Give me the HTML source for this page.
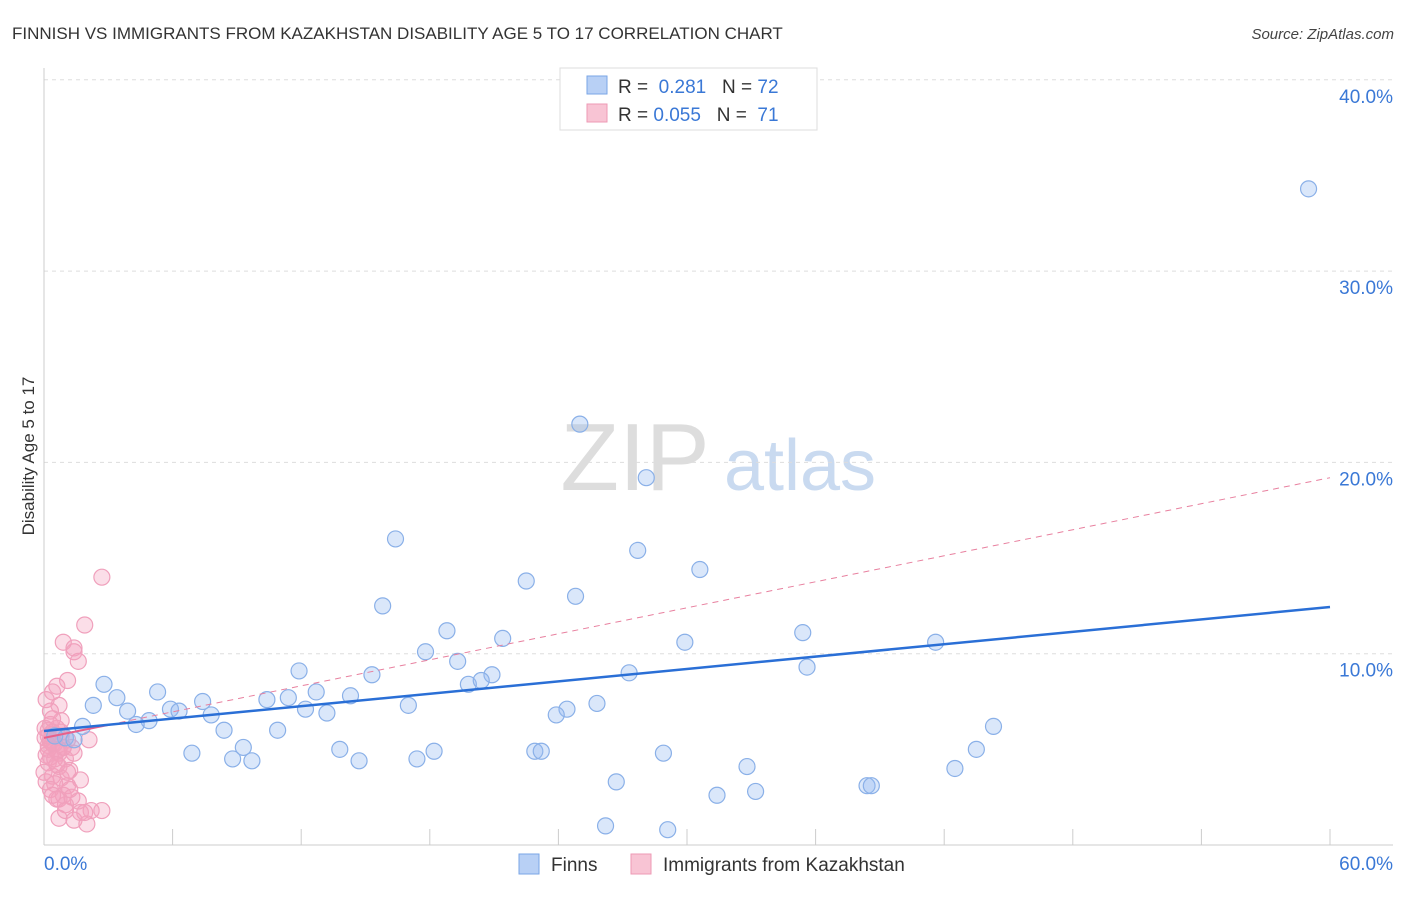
<!DOCTYPE html>
<html><head><meta charset="utf-8"><style>
body{margin:0;background:#fff;font-family:"Liberation Sans",sans-serif;}
svg text{font-family:"Liberation Sans",sans-serif;}
</style></head><body>
<svg id="c" width="1406" height="892" xmlns="http://www.w3.org/2000/svg">
<text x="12" y="39" font-size="17" fill="#333">FINNISH VS IMMIGRANTS FROM KAZAKHSTAN DISABILITY AGE 5 TO 17 CORRELATION CHART</text>
<text x="1394" y="39" font-size="15" fill="#444" font-style="italic" text-anchor="end">Source: ZipAtlas.com</text>
<text x="34" y="456" font-size="17" fill="#333" transform="rotate(-90 34 456)" text-anchor="middle">Disability Age 5 to 17</text>
<g><text x="635" y="490" font-size="96" fill="#ddd" font-family="Liberation Serif" text-anchor="middle">ZIP</text><text x="800" y="490" font-size="72" fill="#c9daf0" text-anchor="middle">atlas</text></g>
<g id="grid"></g><g id="axes"></g><g id="marks"></g>
<g>
<rect x="560" y="68" width="257" height="62" fill="#fff" stroke="#ddd"/>
<rect x="587" y="76" width="20" height="18" fill="#b8d0f5" stroke="#7aa6e6"/>
<rect x="587" y="104" width="20" height="18" fill="#f8c4d4" stroke="#ee9ab5"/>
<text x="618" y="93" font-size="19" fill="#333">R = <tspan fill="#3a78d6">&#160;0.281</tspan>&#160;&#160;&#160;N = <tspan fill="#3a78d6">72</tspan></text>
<text x="618" y="121" font-size="19" fill="#333">R = <tspan fill="#3a78d6">0.055</tspan>&#160;&#160;&#160;N = <tspan fill="#3a78d6">&#160;71</tspan></text>
</g>
<g>
<rect x="519" y="854" width="20" height="20" fill="#b8d0f5" stroke="#7aa6e6"/>
<text x="551" y="871" font-size="19" fill="#333">Finns</text>
<rect x="631" y="854" width="20" height="20" fill="#f8c4d4" stroke="#ee9ab5"/>
<text x="663" y="871" font-size="19" fill="#333">Immigrants from Kazakhstan</text>
</g>
</svg>
<script>
const finnsX=[59,25,28.1,16.4,27.7,30.6,22.5,24.8,15.8,18.8,21.4,29.9,35.4,41.6,17.8,19.3,11.9,27.3,35.6,15.3,20.9,19.8,20.4,2.8,12.7,5.3,14.3,3.4,7.4,10.4,11.4,2.3,5.9,6.3,12.2,17,3.9,7.8,13.2,25.8,24.4,23.9,4.9,1.8,4.3,8.4,10.9,44.3,1,1.4,0.5,9.3,6.9,13.8,18.2,22.9,23.2,28.9,43.5,14.7,8.8,9.7,17.4,32.8,42.5,26.7,38.4,38.6,33.2,31.4,26.2,29.1];
const finnsY=[34.3,22,19.2,16,15.4,14.4,13.8,13,12.5,11.2,10.8,10.6,11.1,10.6,10.1,9.6,9.1,9,9.3,8.9,8.9,8.4,8.6,8.4,8,8,7.8,7.7,7.5,7.6,7.7,7.3,7.1,7,7.1,7.3,7,6.8,6.9,7.4,7.1,6.8,6.5,6.2,6.3,6,6,6.2,5.6,5.5,5.7,5.1,4.8,5,4.9,4.9,4.9,4.8,5,4.4,4.5,4.4,4.5,4.1,4,3.3,3.1,3.1,2.8,2.6,1,0.8];
const kazX=[2.7,1.9,0.9,1.4,1.4,1.6,1.1,0.6,0.4,0.7,0.3,0.8,0.3,0.6,0.2,0.4,0.8,0.05,2.1,0.3,0.5,1.1,0.2,0.9,1.3,0.1,0.6,0.7,1.4,0.3,1,0.2,0.7,1.2,0.4,0.8,1.7,0.1,0.5,1.1,0.3,0.9,1.3,0.7,1.6,1,2.2,2.7,1.7,0.7,1.4,2,0.3,0.4,0.05,0.7,0.2,0.9,1.1,0.5,0.2,0.6,0.8,0.4,0.1,1.2,0,0.6,1,0.4,1.9];
const kazY=[14,11.5,10.6,10.3,10.1,9.6,8.6,8.3,8,7.3,7,6.5,6.3,6.1,6,5.9,5.7,5.6,5.5,5.4,5.3,5.5,5.2,5.1,5.1,4.7,4.9,4.8,4.8,4.6,4.5,4.3,4.1,3.9,3.6,3.5,3.4,3.3,3.2,3.1,2.9,2.6,2.5,2.4,2.3,2.1,1.8,1.8,1.7,1.4,1.3,1.1,5.5,5.3,6.1,5,5,5.1,3.8,4.5,5.7,4.2,5.9,6.6,7.6,2.9,3.8,2.4,1.8,2.6,1.7];
const yTicks=[10,20,30,40];
const X=v=>44+v*1286/60, Y=v=>845-v*19.13;
const ns="http://www.w3.org/2000/svg";
function mk(p,t,a){const e=document.createElementNS(ns,t);for(const k in a)e.setAttribute(k,a[k]);document.getElementById(p).appendChild(e);return e;}
yTicks.forEach(t=>{
 const l=mk('grid','line',{x1:44,x2:1393,y1:Y(t),y2:Y(t),stroke:'#ddd','stroke-dasharray':'4,4'});
 
 
 const tx=mk('grid','text',{x:1393,y:Y(t)+23,'font-size':19,fill:'#3a78d6','text-anchor':'end'});tx.textContent=t.toFixed(1)+'%';
 
 
});
mk('axes','line',{x1:44,x2:44,y1:68,y2:845,stroke:'#ccc'});
mk('axes','line',{x1:44,x2:1393,y1:845,y2:845,stroke:'#ccc'});
for(let i=1;i<=10;i++)mk('axes','line',{x1:X(i*6),x2:X(i*6),y1:829,y2:845,stroke:'#ccc'});
const x0=mk('axes','text',{x:44,y:870,'font-size':19,fill:'#3a78d6'});x0.textContent='0.0%';


const x1=mk('axes','text',{x:1393,y:870,'font-size':19,fill:'#3a78d6','text-anchor':'end'});x1.textContent='60.0%';


kazX.forEach((v,i)=>{const c=mk('marks','circle',{cx:X(v),cy:Y(kazY[i]),r:8,fill:'rgba(244,160,188,0.35)',stroke:'#f0a0bc','stroke-width':1.2});
 
 });
finnsX.forEach((v,i)=>{const c=mk('marks','circle',{cx:X(v),cy:Y(finnsY[i]),r:8,fill:'rgba(150,185,240,0.35)',stroke:'#8ab0e8','stroke-width':1.2});
 
 });
const l1=mk('marks','line',{x1:X(0),y1:Y(5.6),x2:X(60),y2:Y(19.2),stroke:'#e8809f','stroke-dasharray':'6,5','stroke-width':1});


const l2=mk('marks','line',{x1:X(0),y1:Y(5.6),x2:X(3.1),y2:Y(6.3),stroke:'#e8608a','stroke-width':2});


const l3=mk('marks','line',{x1:X(0),y1:Y(5.96),x2:X(60),y2:Y(12.44),stroke:'#2a6fd6','stroke-width':2.5});


</script>
</body></html>
